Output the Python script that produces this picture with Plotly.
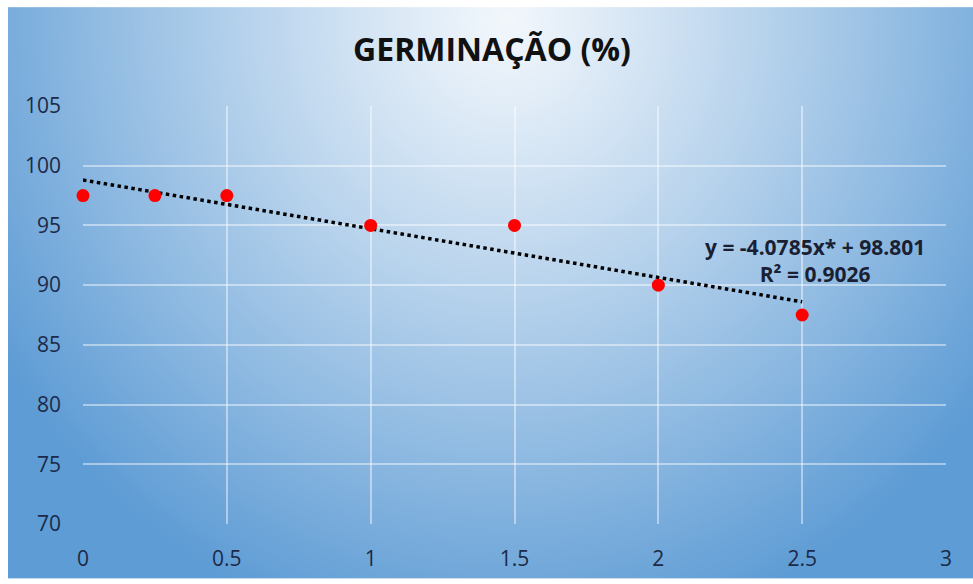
import base64
import struct
import zlib

import numpy as np
import plotly.graph_objects as go

# Germination (%) by dose
dose = [0, 0.25, 0.5, 1, 1.5, 2, 2.5]
germination = [97.5, 97.5, 97.5, 95, 95, 90, 87.5]

# Linear trendline coefficients (as reported on the chart)
slope = -4.0785
intercept = 98.801
r_squared = 0.9026

x_ticks = [0, 0.5, 1, 1.5, 2, 2.5, 3]
x_tick_text = ["0", "0.5", "1", "1.5", "2", "2.5", "3"]
y_ticks = [70, 75, 80, 85, 90, 95, 100, 105]

W, H = 973, 584
ML, MR, MT, MB = 83, 27, 106, 55
PW, PH = W - ML - MR, H - MT - MB


def png_data_uri(rgb):
    h, w, _ = rgb.shape
    raw = b"".join(b"\x00" + rgb[i].tobytes() for i in range(h))

    def chunk(tag, data):
        c = struct.pack(">I", len(data)) + tag + data
        return c + struct.pack(">I", zlib.crc32(tag + data) & 0xFFFFFFFF)

    png = b"\x89PNG\r\n\x1a\n"
    png += chunk(b"IHDR", struct.pack(">IIBBBBB", w, h, 8, 2, 0, 0, 0))
    png += chunk(b"IDAT", zlib.compress(raw, 9))
    png += chunk(b"IEND", b"")
    return "data:image/png;base64," + base64.b64encode(png).decode()


# Radial blue gradient for the chart background
bx0, by0 = 8, 6
bw, bh = W - bx0, H - by0
scale = 2
gw, gh = bw // scale, bh // scale
gx = (np.arange(gw) + 0.5) * scale + bx0
gy = (np.arange(gh) + 0.5) * scale + by0
XX, YY = np.meshgrid(gx, gy)
cx, cy, rx, ry = 505, 20, 600, 640
t = np.sqrt(((XX - cx) / rx) ** 2 + ((YY - cy) / ry) ** 2)
t = np.clip(t, 0, 1) ** 1.1
light = np.array([242, 247, 252], dtype=float)
dark = np.array([94, 156, 213], dtype=float)
img = (light[None, None, :] * (1 - t[..., None]) + dark[None, None, :] * t[..., None])
img = np.clip(img, 0, 255).astype(np.uint8)
bg_uri = png_data_uri(img)

trend_x = [dose[0], dose[-1]]
trend_y = [slope * v + intercept for v in trend_x]

fig = go.Figure()
fig.add_trace(go.Scatter(
    x=trend_x, y=trend_y, mode="lines",
    line=dict(color="black", width=3.5, dash="dot"),
    hoverinfo="skip", showlegend=False, cliponaxis=False,
))
fig.add_trace(go.Scatter(
    x=dose, y=germination, mode="markers",
    marker=dict(color="#ff0000", size=13, line=dict(width=0)),
    showlegend=False, cliponaxis=False,
))

FONT = "'Open Sans', Lato, sans-serif"
tick_font = dict(family=FONT, size=21, color="#1c2a47")
grid = "rgba(255,255,255,0.45)"

fig.update_layout(
    width=W, height=H,
    margin=dict(l=ML, r=MR, t=MT, b=MB, pad=0),
    paper_bgcolor="white",
    plot_bgcolor="rgba(0,0,0,0)",
    title=dict(
        text="<b>GERMINAÇÃO (%)</b>",
        x=492 / W, xanchor="center", xref="container",
        y=1 - 50 / H, yanchor="middle", yref="container",
        font=dict(family=FONT, size=32, color="#111111"),
    ),
    xaxis=dict(
        range=[0, 3], tickvals=x_ticks, ticktext=x_tick_text,
        showgrid=True, gridcolor=grid, gridwidth=2,
        zeroline=False, showline=False, ticks="",
        tickfont=tick_font, ticklabelstandoff=20,
    ),
    yaxis=dict(
        range=[70, 105], tickvals=y_ticks,
        showgrid=True, gridcolor=grid, gridwidth=2,
        zeroline=False, showline=False, ticks="",
        tickfont=tick_font, ticklabelstandoff=21,
    ),
    images=[dict(
        source=bg_uri, xref="paper", yref="paper",
        x=(bx0 - ML) / PW, y=(H - MB - by0) / PH,
        sizex=bw / PW, sizey=bh / PH,
        xanchor="left", yanchor="top", sizing="stretch", layer="below",
    )],
    annotations=[dict(
        text=f"<b>y = {slope}x* + {intercept}<br>R² = {r_squared}</b>",
        xref="paper", yref="paper",
        x=(815 - ML) / PW, y=(H - MB - 262) / PH,
        xanchor="center", yanchor="middle", showarrow=False, align="center",
        font=dict(family=FONT, size=21, color="#1a1f33"),
    )],
)

fig.write_html("out.html")
